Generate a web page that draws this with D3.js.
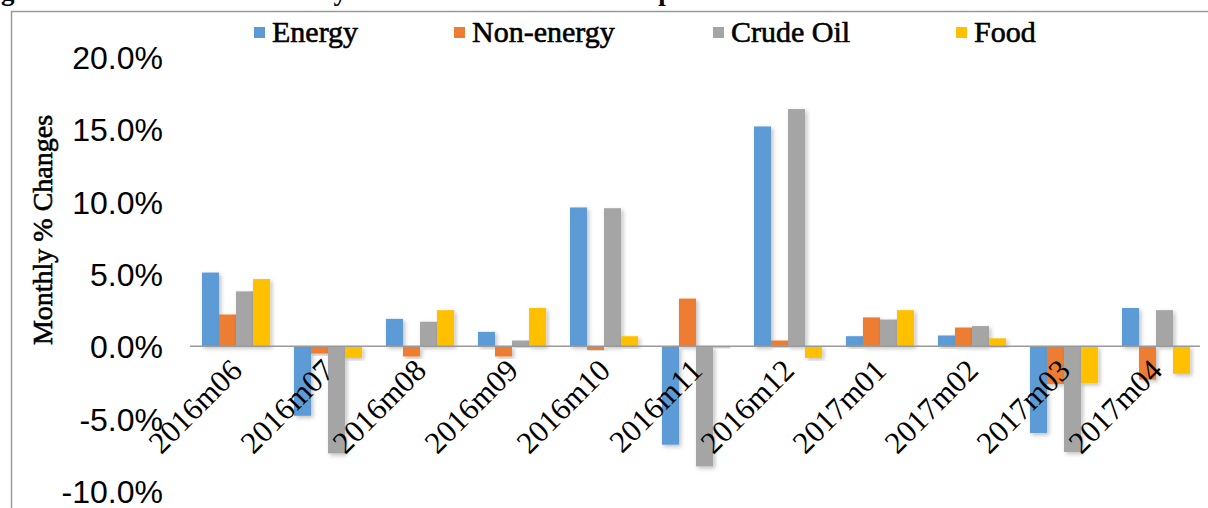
<!DOCTYPE html>
<html><head><meta charset="utf-8">
<script src="https://cdn.jsdelivr.net/npm/d3@7"></script>
<style>
html,body{margin:0;padding:0;background:#fff;}
svg{display:block;}
</style></head>
<body>
<svg id="chart" width="1208" height="508"></svg>
<script>
const categories = ["2016m06","2016m07","2016m08","2016m09","2016m10","2016m11","2016m12","2017m01","2017m02","2017m03","2017m04"];
const seriesNames = ["Energy","Non-energy","Crude Oil","Food"];
const energy    = [5.1, -4.8, 1.9, 1.0, 9.6, -6.8, 15.2, 0.7, 0.75, -6.0, 2.65];
const nonEnergy = [2.2, -0.5, -0.7, -0.7, -0.25, 3.3, 0.4, 2.0, 1.3, -2.6, -2.3];
const crudeOil  = [3.8, -7.4, 1.7, 0.4, 9.55, -8.3, 16.4, 1.85, 1.4, -7.3, 2.5];
const food      = [4.65, -0.8, 2.5, 2.65, 0.7, -0.1, -0.8, 2.5, 0.55, -2.55, -1.9];
const yTicks = [-10, -5, 0, 5, 10, 15, 20];
const colors = ["#5B9BD5", "#ED7D31", "#A5A5A5", "#FFC000"];

const seriesValues = [energy, nonEnergy, crudeOil, food];
const serif = "'Liberation Serif','Times New Roman',Times,serif";
const sans = "'Liberation Sans',Arial,Helvetica,sans-serif";
const svg = d3.select("#chart");

const defs = svg.append("defs");
const f = defs.append("filter").attr("id","shadow").attr("x","-30%").attr("y","-10%").attr("width","160%").attr("height","130%");
f.append("feDropShadow").attr("dx",2).attr("dy",2).attr("stdDeviation",2).attr("flood-color","#000").attr("flood-opacity",0.25);

// partial title at top (clipped by the page edge)
svg.append("text").attr("x",-23).attr("y",0)
  .style("font-family",serif).style("font-weight","bold").style("font-size","27px").attr("fill","#000")
  .text("Figure 5.1: Selected Commodity Price Indices and the Components");

// frame
svg.append("path").attr("d","M11.5,508 V11.5 H1208").attr("fill","none").attr("stroke","#9a9a9a").attr("stroke-width",1.5);

const x = d3.scaleBand().domain(categories).range([190, 1202]).paddingInner(0.26).paddingOuter(0.13);
const xs = d3.scaleBand().domain(seriesNames).range([0, x.bandwidth()]).padding(0);
const y = d3.scaleLinear().domain([-10, 20]).range([491, 57]);

// y axis (labels only)
const yAxis = d3.axisLeft(y).tickValues(yTicks).tickFormat(d => (d < 0 ? "-" : "") + Math.abs(d).toFixed(1) + "%").tickSize(0).tickPadding(0);
const gy = svg.append("g").attr("transform","translate(163,0)").call(yAxis);
gy.select(".domain").remove();
gy.selectAll("text").style("font-family",sans).style("font-size","32px").attr("fill","#000").attr("dy","0.36em");

// y axis title
svg.append("text").attr("transform","translate(52,230) rotate(-90)")
  .attr("text-anchor","middle").style("font-family",serif)
  .style("font-size","28px").attr("fill","#000").attr("stroke","#000").attr("stroke-width",0.6)
  .text("Monthly % Changes");

// bars
const groups = svg.append("g").selectAll("g").data(categories).join("g")
  .attr("transform", d => `translate(${x(d)},0)`);
groups.selectAll("rect").data((d,i) => seriesNames.map((s,j) => ({s, v: seriesValues[j][i], j})))
  .join("rect")
  .attr("x", d => xs(d.s))
  .attr("width", xs.bandwidth())
  .attr("y", d => y(Math.max(0, d.v)))
  .attr("height", d => Math.abs(y(d.v) - y(0)))
  .attr("fill", d => colors[d.j])
  .attr("filter","url(#shadow)");

// zero line
svg.append("line").attr("x1",190).attr("x2",1200).attr("y1",y(0)).attr("y2",y(0)).attr("stroke","#9a9a9a").attr("stroke-width",1.5);

// x labels
const xAxis = d3.axisBottom(x).tickSize(0).tickPadding(0);
const gx = svg.append("g").attr("transform",`translate(0,${y(0)})`).call(xAxis);
gx.select(".domain").remove();
gx.selectAll("text")
  .style("font-family",serif).style("font-size","31px").attr("fill","#000")
  .attr("text-anchor","end").attr("dy",0).attr("y",0)
  .attr("transform","translate(8,26) rotate(-45)");

// legend
const legendX = [254, 454, 713, 956];
const leg = svg.append("g");
seriesNames.forEach((s,i) => {
  leg.append("rect").attr("x",legendX[i]).attr("y",27).attr("width",11).attr("height",11).attr("fill",colors[i]);
  leg.append("text").attr("x",legendX[i]+18).attr("y",42)
    .style("font-family",serif).style("font-size","30px").attr("fill","#000")
    .attr("stroke","#000").attr("stroke-width",0.6).text(s);
});
</script>
</body></html>
